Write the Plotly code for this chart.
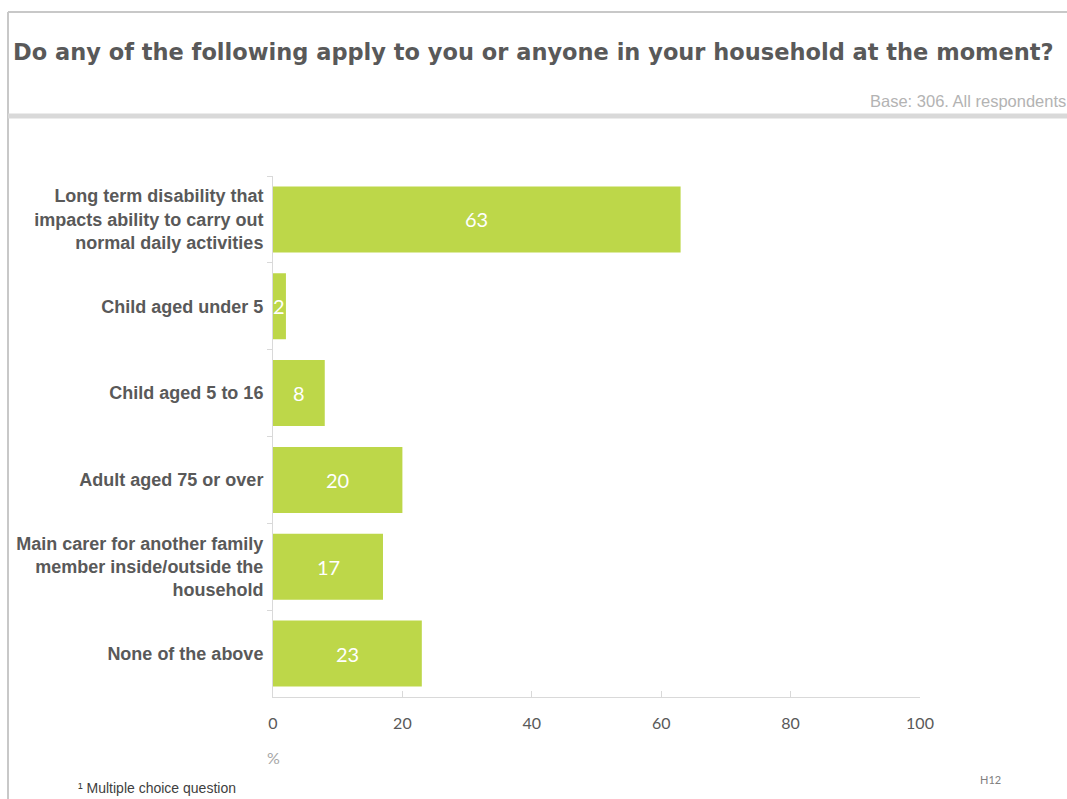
import plotly.graph_objects as go

# Survey responses (% of respondents)
categories = [
    "Long term disability that<br>impacts ability to carry out<br>normal daily activities",
    "Child aged under 5",
    "Child aged 5 to 16",
    "Adult aged 75 or over",
    "Main carer for another family<br>member inside/outside the<br>household",
    "None of the above",
]
values = [63, 2, 8, 20, 17, 23]
x_ticks = [0, 20, 40, 60, 80, 100]

W, H = 1067, 799
BAR = "#bdd749"
GREY_TXT = "#595959"
LINE = "#d9d9d9"


def px(x):
    return x / W


def py(y):
    return 1 - y / H


fig = go.Figure()
fig.add_trace(go.Bar(
    x=values,
    y=categories,
    orientation="h",
    marker=dict(color=BAR, line=dict(width=0)),
    width=0.76,
    hoverinfo="skip",
))

# value labels centred in each bar
for cat, v in zip(categories, values):
    fig.add_annotation(
        x=v / 2, y=cat, xref="x", yref="y", text=str(v), showarrow=False,
        font=dict(family="Lato, Open Sans, sans-serif", size=20, color="white"),
        xanchor="center", yanchor="middle",
    )

fig.update_layout(
    width=W, height=H, autosize=False,
    margin=dict(l=0, r=0, t=0, b=0, pad=0),
    paper_bgcolor="white", plot_bgcolor="white",
    showlegend=False,
    bargap=0.24,
    xaxis=dict(
        domain=[px(273), px(920)],
        range=[0, 100],
        automargin=False,
        tickvals=x_ticks,
        ticktext=[str(t) for t in x_ticks],
        showgrid=False, zeroline=False,
        showline=True, linecolor=LINE, linewidth=1,
        ticks="inside", ticklen=6, tickcolor=LINE,
        tickfont=dict(family="Lato, Open Sans, sans-serif", size=16, color=GREY_TXT),
        ticklabelstandoff=12,
        fixedrange=True,
    ),
    yaxis=dict(
        domain=[py(697), py(176)],
        autorange="reversed",
        automargin=False,
        showgrid=False, zeroline=False,
        showline=True, linecolor=LINE, linewidth=1,
        ticks="outside", ticklen=5, tickcolor=LINE, tickson="boundaries",
        tickfont=dict(family="Liberation Sans, Arial, sans-serif", size=18,
                      color=GREY_TXT, weight="bold"),
        ticklabelstandoff=5,
        fixedrange=True,
    ),
)

# frame and header rule
fig.add_shape(type="line", xref="paper", yref="paper",
              x0=px(8), x1=1, y0=py(12), y1=py(12),
              line=dict(color="#c8c8c8", width=2))
fig.add_shape(type="line", xref="paper", yref="paper",
              x0=px(8), x1=px(8), y0=py(12), y1=0,
              line=dict(color="#c8c8c8", width=2))
fig.add_shape(type="line", xref="paper", yref="paper",
              x0=px(8), x1=1, y0=py(116), y1=py(116),
              line=dict(color=LINE, width=5))

# title
fig.add_annotation(
    x=px(11), y=py(52), xref="paper", yref="paper", xanchor="left", yanchor="middle",
    text="Do any of the following apply to you or anyone in your household at the moment?",
    showarrow=False,
    font=dict(family="DejaVu Sans, Verdana, sans-serif", size=22.5,
              color=GREY_TXT, weight="bold"),
)
fig.add_annotation(
    x=px(868), y=py(101), xref="paper", yref="paper", xanchor="left", yanchor="middle",
    text="Base: 306. All respondents", showarrow=False,
    font=dict(family="Liberation Sans, Arial, sans-serif", size=16.5, color="#b3b3b3"),
)
fig.add_annotation(
    x=px(273), y=py(757), xref="paper", yref="paper", xanchor="center", yanchor="middle",
    text="%", showarrow=False,
    font=dict(family="Lato, Open Sans, sans-serif", size=16, color="#a6a6a6"),
)
fig.add_annotation(
    x=px(990), y=py(779), xref="paper", yref="paper", xanchor="center", yanchor="middle",
    text="H12", showarrow=False,
    font=dict(family="Lato, Open Sans, sans-serif", size=11, color="#808080"),
)
fig.add_annotation(
    x=px(76), y=py(788), xref="paper", yref="paper", xanchor="left", yanchor="middle",
    text="¹ Multiple choice question", showarrow=False,
    font=dict(family="Liberation Sans, Arial, sans-serif", size=14, color="#404040"),
)

fig.write_html("out.html", config={"responsive": False})
